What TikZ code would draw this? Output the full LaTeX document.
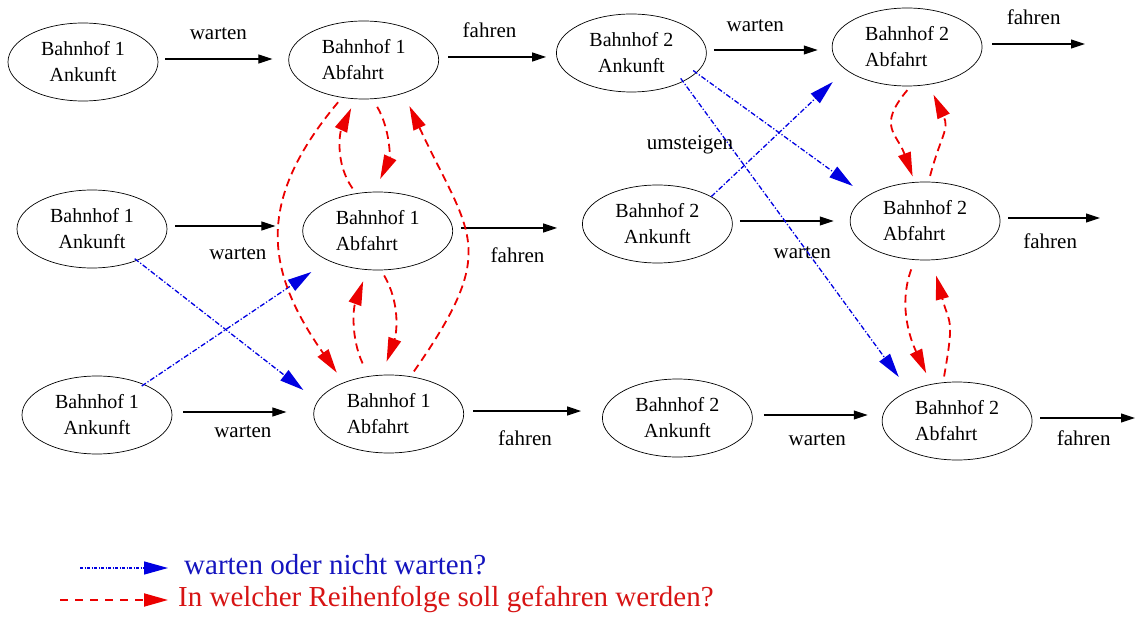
\documentclass[tikz,border=0pt]{standalone}
\usepackage{fontspec}
\setmainfont{Liberation Serif}
\usepackage{xcolor}
\usepackage{tikz}
\usetikzlibrary{arrows.meta,positioning,shapes.geometric}

\definecolor{wblue}{RGB}{0,0,225}
\definecolor{rred}{RGB}{235,0,0}
\definecolor{legblue}{RGB}{20,20,190}
\definecolor{legred}{RGB}{215,20,20}

\begin{document}
\begin{tikzpicture}[
  x=1pt, y=-1pt,
  font=\fontsize{20}{26}\selectfont,
  bhf/.style={draw, ellipse, minimum width=150pt, minimum height=78pt, inner sep=0pt, line width=0.7pt},
  ank/.style={bhf, align=center},
  abf/.style={bhf, align=left},
  lbl/.style={font=\fontsize{21}{25}\selectfont, inner sep=0pt, text height=13pt, text depth=4pt},
  legtxt/.style={font=\fontsize{29}{34}\selectfont, inner sep=0pt, text height=19pt, text depth=6pt},
  arr/.style={-{Triangle[length=14pt,width=9pt]}, line width=1.1pt},
  ord/.style={-{Triangle[length=24pt,width=13pt]}, rred, line width=1.8pt, dash pattern=on 8pt off 5pt, shorten <=6pt, shorten >=10pt},
  wart/.style={-{Triangle[length=24pt,width=13pt]}, wblue, line width=1.3pt, dash pattern=on 5pt off 2pt on 1.2pt off 2pt}
]
  \useasboundingbox (0,0) rectangle (1137,636);

  % erste Zeile
  \node[ank] (an1a) at (83,62) {Bahnhof 1\\Ankunft};
  \node[abf, right=130pt of an1a, yshift=2pt] (ab1a) {Bahnhof 1\\Abfahrt};
  \node[ank, right=117pt of ab1a, yshift=7pt] (an2a) {Bahnhof 2\\Ankunft};
  \node[abf, right=125pt of an2a, yshift=6pt] (ab2a) {Bahnhof 2\\Abfahrt};
  \coordinate (e1) at (1085,44);

  % zweite Zeile
  \node[ank] (an1b) at (92,229) {Bahnhof 1\\Ankunft};
  \node[abf, right=135pt of an1b, yshift=-2pt] (ab1b) {Bahnhof 1\\Abfahrt};
  \node[ank, right=129pt of ab1b, yshift=7pt] (an2b) {Bahnhof 2\\Ankunft};
  \node[abf, right=117pt of an2b, yshift=3pt] (ab2b) {Bahnhof 2\\Abfahrt};
  \coordinate (e2) at (1100,218);

  % dritte Zeile
  \node[ank] (an1c) at (97,415) {Bahnhof 1\\Ankunft};
  \node[abf, right=141pt of an1c, yshift=1pt] (ab1c) {Bahnhof 1\\Abfahrt};
  \node[ank, right=138pt of ab1c, yshift=-4pt] (an2c) {Bahnhof 2\\Ankunft};
  \node[abf, right=129pt of an2c, yshift=-3pt] (ab2c) {Bahnhof 2\\Abfahrt};
  \coordinate (e3) at (1135,418);

  % warten / fahren
  \draw[arr, shorten <=7pt, shorten >=16pt] ([yshift=3pt]an1a.east) -- ([yshift=3pt]an1a.east -| ab1a.west) node[lbl, midway, above=15pt, xshift=-5pt] {warten};
  \draw[arr, shorten <=9pt, shorten >=10pt] ([yshift=3pt]ab1a.east) -- ([yshift=3pt]ab1a.east -| an2a.west) node[lbl, midway, above=15pt, xshift=-8pt] {fahren};
  \draw[arr, shorten <=7pt, shorten >=14pt] ([yshift=3pt]an2a.east) -- ([yshift=3pt]an2a.east -| ab2a.west) node[lbl, midway, above=14pt, xshift=-14pt] {warten};
  \draw[arr, shorten <=10pt] ([yshift=3pt]ab2a.east) -- ([yshift=3pt]ab2a.east -| e1) node[lbl, midway, above=15pt] {fahren};

  \draw[arr, shorten <=8pt, shorten >=27pt] ([yshift=3pt]an1b.east) -- ([yshift=3pt]an1b.east -| ab1b.west) node[lbl, midway, below=20pt, xshift=3pt] {warten};
  \draw[arr, shorten <=8pt, shorten >=25pt] ([yshift=3pt]ab1b.east) -- ([yshift=3pt]ab1b.east -| an2b.west) node[lbl, midway, below=21pt] {fahren};
  \draw[arr, shorten <=7pt, shorten >=16pt] ([yshift=3pt]an2b.east) -- ([yshift=3pt]an2b.east -| ab2b.west) node[lbl, midway, below=24pt, xshift=11pt] {warten};
  \draw[arr, shorten <=8pt] ([yshift=3pt]ab2b.east) -- ([yshift=3pt]ab2b.east -| e2) node[lbl, midway, below=17pt] {fahren};

  \draw[arr, shorten <=11pt, shorten >=27pt] ([yshift=3pt]an1c.east) -- ([yshift=3pt]an1c.east -| ab1c.west) node[lbl, midway, below=12pt] {warten};
  \draw[arr, shorten <=9pt, shorten >=21pt] ([yshift=3pt]ab1c.east) -- ([yshift=3pt]ab1c.east -| an2c.west) node[lbl, midway, below=21pt, xshift=-8pt] {fahren};
  \draw[arr, shorten <=11pt, shorten >=14pt] ([yshift=3pt]an2c.east) -- ([yshift=3pt]an2c.east -| ab2c.west) node[lbl, midway, below=17pt] {warten};
  \draw[arr, shorten <=8pt] ([yshift=3pt]ab2c.east) -- ([yshift=3pt]ab2c.east -| e3) node[lbl, midway, below=14pt] {fahren};

  % umsteigen (blau)
  \draw[wart, shorten <=-3pt] (an1b.-35) -- ([shift={(-10,-24)}]ab1c.west);
  \draw[wart, shorten <=-3pt] (an1c.33) -- ([shift={(9,41)}]ab1b.west);
  \draw[wart, shorten <=-4pt] (an2a.-17) -- ([shift={(3,-35)}]ab2b.west);
  \draw[wart, shorten <=-4pt] (an2a.-29) -- ([shift={(17,-44)}]ab2c.west);
  \draw[wart] (an2b.27) -- ([shift={(1,35)}]ab2a.west);
  \node[lbl] (umst) at (690,145) {umsteigen};

  % Reihenfolge (rot)
  \draw[ord] (ab1b.120) to[out=125, in=-115] (ab1a.258);
  \draw[ord, shorten <=9pt, shorten >=14pt] (ab1a.283) to[out=-60, in=65] (ab1b.95);
  \draw[ord, shorten >=12pt] (ab1a.240) to[out=230, in=125, looseness=1.22] (ab1c.145);
  \draw[ord, shorten >=14pt] (ab1c.60) to[out=55, in=-65, looseness=1.42] (ab1a.-40);
  \draw[ord, shorten <=14pt, shorten >=12pt] (ab1c.118) to[out=115, in=-110] (ab1b.255);
  \draw[ord, shorten >=14pt] (ab1b.-85) to[out=-60, in=70] (ab1c.100);
  \draw[ord, shorten <=5pt, shorten >=6pt] (ab2a.275) to[out=-130, in=110, looseness=1.4] (ab2b.105);
  \draw[ord, shorten >=11pt] (ab2b.85) to[out=75, in=-65, looseness=1.3] (ab2a.-60);
  \draw[ord, shorten <=10pt, shorten >=12pt] (ab2b.255) to[out=-110, in=115] (ab2c.125);
  \draw[ord, shorten >=16pt] (ab2c.110) to[out=80, in=-75, looseness=1.4] (ab2b.-80);

  % Legende
  \coordinate (lgb) at (80,568);
  \node[legtxt, anchor=west, text=legblue] (lgw) at (184,568) {warten oder nicht warten?};
  \draw[wart, dash pattern=on 3pt off 1.5pt on 1pt off 1.5pt, shorten >=16pt] (lgb) -- (lgw.west);
  \coordinate (lgr) at (60,600);
  \node[legtxt, anchor=west, text=legred] (lgf) at (178,600) {In welcher Reihenfolge soll gefahren werden?};
  \draw[ord, shorten <=0pt, shorten >=10pt, dash pattern=on 8pt off 7pt] (lgr) -- (lgf.west);
\end{tikzpicture}
\end{document}
